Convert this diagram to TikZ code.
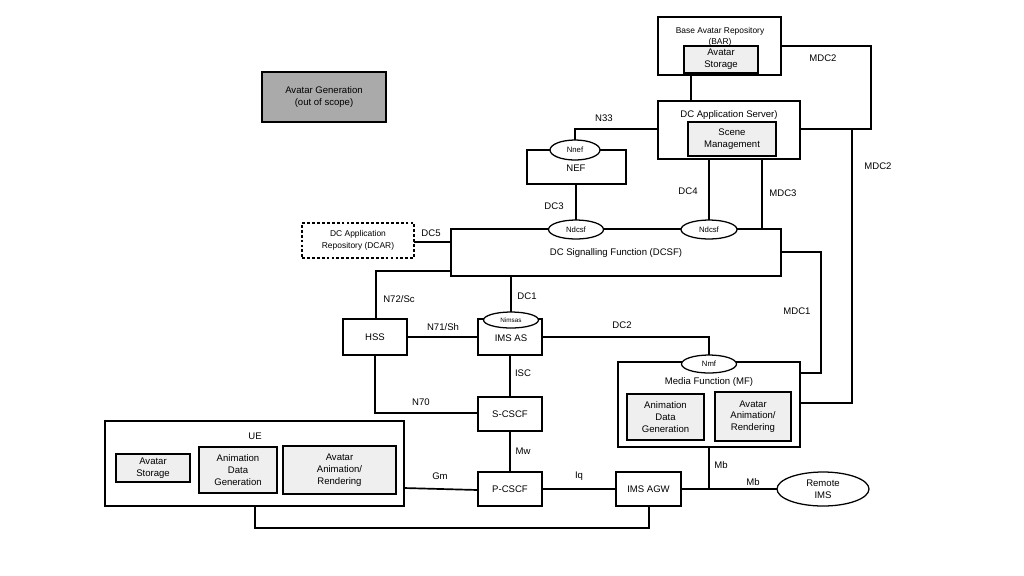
\documentclass[tikz,border=0pt]{standalone}
\usepackage{fontspec}
\setmainfont{Liberation Sans}
\usetikzlibrary{shapes.geometric}
\definecolor{boxgray}{HTML}{EFEFEF}
\definecolor{darkgray}{HTML}{AAAAAA}
\newcommand\fmain{\fontsize{6.8}{8.4}\selectfont}
\newcommand\fsmall{\fontsize{6}{7.4}\selectfont}
\newcommand\fell{\fontsize{5.5}{6.5}\selectfont}
\newcommand\ftiny{\fontsize{4.5}{5.5}\selectfont}
\newcommand\bx[7]{\node[#1,minimum width={(#4-#2)*0.025cm},minimum height={(#5-#3)*0.025cm}] (#6) at ({(#2+#4)/2},{(#3+#5)/2}) {#7};}
\begin{document}
\begin{tikzpicture}[x=0.025cm,y=-0.025cm,
  every node/.style={font=\fmain,align=center},
  box/.style={draw,line width=0.9pt,inner sep=0pt,outer sep=0pt},
  inbox/.style={box,fill=boxgray},
  dashbox/.style={box,line width=0.8pt,dash pattern=on 2pt off 1.5pt},
  darkbox/.style={box,fill=darkgray},
  ell/.style={draw,ellipse,fill=white,line width=0.9pt,inner sep=0pt,outer sep=0pt},
  conn/.style={line width=1.2pt},
  lbl/.style={inner sep=0pt}]
\useasboundingbox (0,0) rectangle (1024,575);
% boxes
\bx{darkbox}{262}{72}{386}{122}{agen}{Avatar Generation\\(out of scope)}
\bx{box}{658}{17}{781}{75}{bar}{}
\node[lbl,font=\fsmall] (bart) at (720,37) {Base Avatar Repository\\(BAR)};
\bx{inbox}{684}{46}{758}{73}{barst}{Avatar\\Storage}
\bx{box}{658}{101}{800}{159}{das}{}
\node[lbl] (dast) at (729,115) {DC Application Server)};
\bx{inbox}{688}{122}{776}{156}{scene}{Scene\\Management}
\bx{box}{527}{150}{626}{184}{nef}{}
\node[lbl] (neft) at (576,168) {NEF};
\bx{dashbox}{302}{223}{414}{258}{dcar}{\fsmall DC Application\\\fsmall Repository (DCAR)}
\bx{box}{451}{229}{781}{276}{dcsf}{}
\node[lbl] (dcsft) at (616,253) {DC Signalling Function (DCSF)};
\bx{box}{343}{319}{407}{355}{hss}{HSS}
\bx{box}{478}{319}{542}{355}{imsas}{}
\node[lbl] (imsast) at (511,338) {IMS AS};
\bx{box}{478}{397}{542}{431}{scscf}{S-CSCF}
\bx{box}{478}{472}{542}{506}{pcscf}{P-CSCF}
\bx{box}{616}{472}{681}{506}{agw}{IMS AGW}
\bx{box}{618}{362}{800}{447}{mf}{}
\node[lbl] (mft) at (709,382) {Media Function (MF)};
\bx{inbox}{627}{394}{704}{440}{mfadg}{Animation\\Data\\Generation}
\bx{inbox}{715}{392}{791}{441}{mfaar}{Avatar\\Animation/\\Rendering}
\bx{box}{105}{421}{404}{506}{ue}{}
\node[lbl] (uet) at (255,436) {UE};
\bx{inbox}{116}{454}{190}{482}{uest}{Avatar\\Storage}
\bx{inbox}{199}{447}{277}{493}{ueadg}{Animation\\Data\\Generation}
\bx{inbox}{283}{446}{396}{494}{ueaar}{Avatar\\Animation/\\Rendering}
% ellipses
\node[ell,minimum width=50*0.025cm,minimum height=20*0.025cm,font=\fell] (nnef) at (575,150) {Nnef};
\node[ell,minimum width=55*0.025cm,minimum height=19*0.025cm,font=\fell] (nd1) at (576,229.5) {Ndcsf};
\node[ell,minimum width=56*0.025cm,minimum height=19*0.025cm,font=\fell] (nd2) at (709,229.5) {Ndcsf};
\node[ell,minimum width=55*0.025cm,minimum height=16*0.025cm,font=\ftiny] (nimsas) at (511,320) {Nimsas};
\node[ell,minimum width=55*0.025cm,minimum height=18*0.025cm,font=\fell] (nmf) at (709,364) {Nmf};
\node[ell,minimum width=92*0.025cm,minimum height=34*0.025cm] (remote) at (823,489) {Remote\\IMS};
% connectors
\draw[conn] (bar.south -| 691,0) -- (das.north -| 691,0);
\draw[conn] (bar.east |- 0,46) -- (871,46) -- (871,129) -- (das.east |- 0,129);
\draw[conn] (852,129) -- (852,403) -- (mf.east |- 0,403);
\draw[conn] (das.west |- 0,129) -- (575,129) -- (nnef.north);
\draw[conn] (nd1.north |- nef.south) -- (nd1.north);
\draw[conn] (nd2.north |- das.south) -- (nd2.north);
\draw[conn] (das.south -| 762,0) -- (dcsf.north -| 762,0);
\draw[conn] (dcsf.east |- 0,252) -- (821,252) -- (821,373) -- (mf.east |- 0,373);
\draw[conn] (dcar.east |- 0,242) -- (dcsf.west |- 0,242);
\draw[conn] (dcsf.west |- 0,271) -- (376,271) -- (hss.north -| 376,0);
\draw[conn] (nimsas.north |- dcsf.south) -- (nimsas.north);
\draw[conn] (hss.east) -- (imsas.west);
\draw[conn] (imsas.east) -| (nmf.north);
\draw[conn] (imsas.south) -- (scscf.north);
\draw[conn] (hss.south -| 375,0) |- (scscf.west |- 0,413);
\draw[conn] (scscf.south) -- (pcscf.north);
\draw[conn] (ue.east |- 0,488) -- (pcscf.west |- 0,490);
\draw[conn] (pcscf.east) -- (agw.west);
\draw[conn] (agw.east) -- (remote.west);
\draw[conn] (mf.south) -- (mf.south |- agw.east);
\draw[conn] (ue.south -| 255,0) -- (255,528) -- (649,528) -- (agw.south -| 649,0);
% labels
\node[lbl] at (823,58) {MDC2};
\node[lbl] at (878,166) {MDC2};
\node[lbl] at (604,118) {N33};
\node[lbl] at (554,206) {DC3};
\node[lbl] at (688,191) {DC4};
\node[lbl] at (783,193) {MDC3};
\node[lbl] at (797,311) {MDC1};
\node[lbl] at (431,233) {DC5};
\node[lbl] at (399,299) {N72/Sc};
\node[lbl] at (527,296) {DC1};
\node[lbl] at (443,327) {N71/Sh};
\node[lbl] at (622,325) {DC2};
\node[lbl] at (523,373) {ISC};
\node[lbl] at (421,402) {N70};
\node[lbl] at (523,451) {Mw};
\node[lbl] at (440,476) {Gm};
\node[lbl] at (579,476) {Iq};
\node[lbl] at (721,465) {Mb};
\node[lbl] at (753,482) {Mb};
\end{tikzpicture}
\end{document}
